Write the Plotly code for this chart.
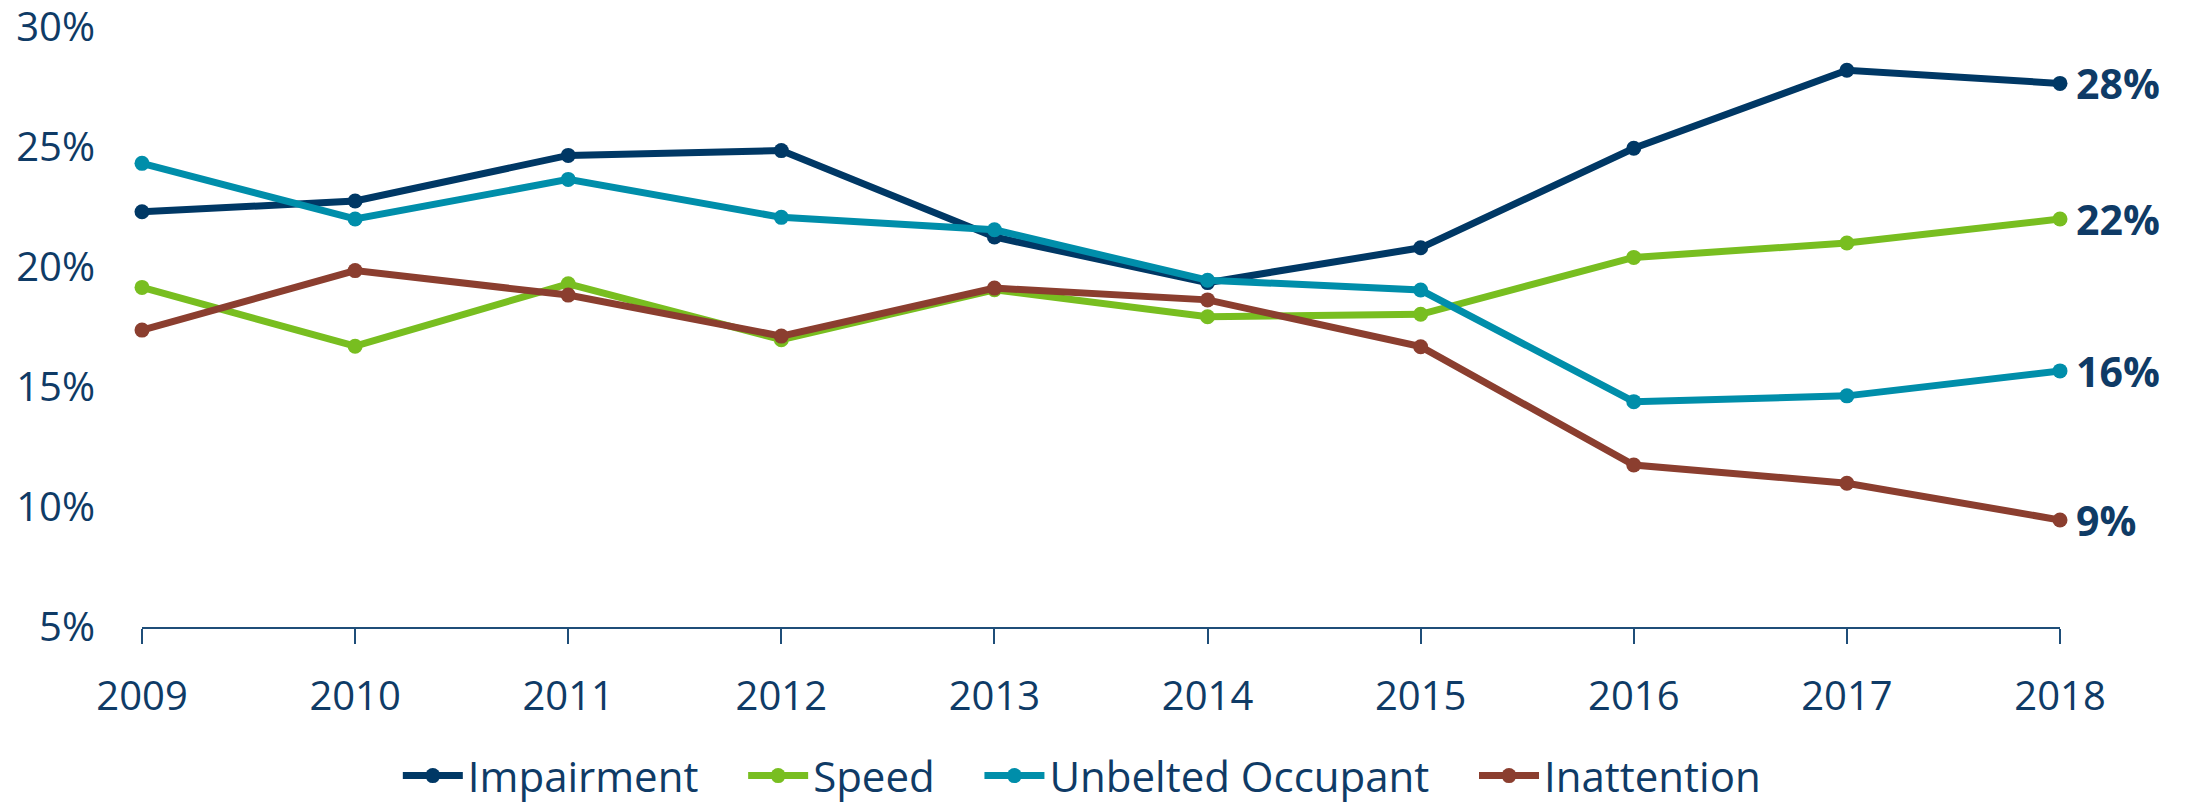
import plotly.graph_objects as go

years = [2009, 2010, 2011, 2012, 2013, 2014, 2015, 2016, 2017, 2018]
impairment = [22.3, 22.75, 24.65, 24.85, 21.25, 19.35, 20.8, 24.95, 28.2, 27.65]
speed = [19.15, 16.7, 19.3, 16.97, 19.05, 17.93, 18.03, 20.4, 21.0, 22.0]
unbelted = [24.32, 22.0, 23.65, 22.07, 21.55, 19.45, 19.04, 14.39, 14.63, 15.67]
inattention = [17.37, 19.85, 18.83, 17.12, 19.12, 18.63, 16.68, 11.75, 10.99, 9.46]

series_names = ["Impairment", "Speed", "Unbelted Occupant", "Inattention"]
series_values = [impairment, speed, unbelted, inattention]
series_colors = ["#003865", "#78BE20", "#008EAA", "#8B3E2F"]
end_labels = ["28%", "22%", "16%", "9%"]

y_ticks = [5, 10, 15, 20, 25, 30]
y_tick_text = ["5%", "10%", "15%", "20%", "25%", "30%"]

text_color = "#0F3B66"
font_family = "Open Sans"
pad = "\u00a0\u00a0\u00a0\u2009"

fig = go.Figure()
for i, (name, vals, color) in enumerate(zip(series_names, series_values, series_colors)):
    shown = name + (pad if i < len(series_names) - 1 else "")
    fig.add_trace(go.Scatter(
        x=years, y=vals, name=shown, mode="lines+markers",
        line=dict(color=color, width=7),
        marker=dict(color=color, size=15),
        cliponaxis=False,
    ))

for vals, label in zip(series_values, end_labels):
    fig.add_annotation(
        x=years[-1], y=vals[-1], text=label, showarrow=False,
        xanchor="left", yanchor="middle", xshift=14,
        font=dict(family=font_family, size=41, color=text_color, weight="bold"),
    )

fig.update_layout(
    width=2180, height=795,
    margin=dict(l=134, r=128, t=19, b=176, autoexpand=False),
    plot_bgcolor="white", paper_bgcolor="white",
    font=dict(family=font_family, size=40, color=text_color),
    showlegend=True,
    legend=dict(
        orientation="h", x=0.49, xanchor="center", y=-0.248, yanchor="middle",
        font=dict(family=font_family, size=42, color=text_color),
        itemwidth=60, traceorder="normal",
    ),
    xaxis=dict(
        range=[2009, 2018], tickmode="array", tickvals=years,
        ticktext=[str(y) for y in years],
        showline=True, linecolor="#1F4E79", linewidth=2,
        ticks="outside", ticklen=15, tickwidth=2, tickcolor="#1F4E79",
        showgrid=False, zeroline=False, ticklabelstandoff=18,
        tickfont=dict(family=font_family, size=40, color=text_color),
    ),
    yaxis=dict(
        range=[4.999, 30.001], tickmode="array", tickvals=y_ticks, ticktext=y_tick_text,
        showline=False, showgrid=False, zeroline=False, ticks="",
        ticklabelstandoff=46, ticklabeloverflow="allow",
        tickfont=dict(family=font_family, size=40, color=text_color),
    ),
)

fig.write_html("out.html")
